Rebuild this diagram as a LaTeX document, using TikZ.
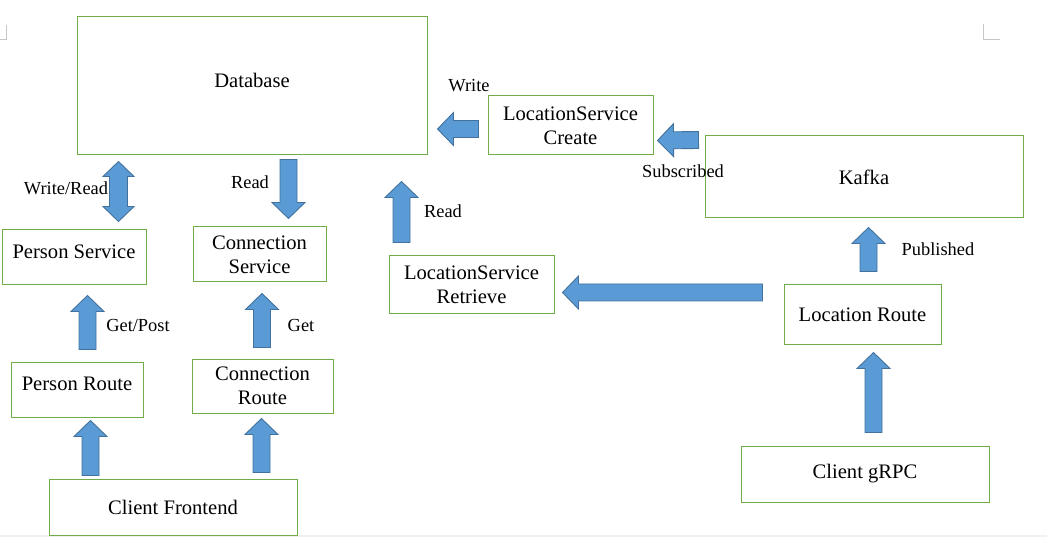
\documentclass[tikz,border=0pt]{standalone}
\usepackage{fontspec}
\setmainfont{Liberation Serif}
\usetikzlibrary{calc}

\definecolor{boxgreen}{HTML}{70AD47}
\definecolor{arrowfill}{HTML}{5B9BD5}
\definecolor{arrowedge}{HTML}{41719C}

\tikzset{
  box/.style={draw=boxgreen, line width=1pt, align=center, inner sep=0pt,
    font=\fontsize{20.6}{24}\selectfont},
  raised/.style={text depth=11pt},
  lbl/.style={anchor=base, inner sep=0pt, font=\fontsize{18.4}{22}\selectfont},
  pagemark/.style={draw=gray!45, line width=1pt},
  blockarrow/.style={draw=arrowedge, fill=arrowfill, line width=0.9pt,
    to path={let \p1=(\tikztostart), \p2=(\tikztotarget),
      \n1={atan2(\y2-\y1,\x2-\x1)}, \n2={veclen(\x2-\x1,\y2-\y1)} in
      [shift={(\p1)}, rotate=\n1]
      (0pt,-8.5pt) -- ({\n2*1pt-16pt},-8.5pt) -- ({\n2*1pt-16pt},-16.5pt)
      -- ({\n2*1pt},0pt) -- ({\n2*1pt-16pt},16.5pt) -- ({\n2*1pt-16pt},8.5pt)
      -- (0pt,8.5pt) -- cycle}},
  doublearrow/.style={draw=arrowedge, fill=arrowfill, line width=0.9pt,
    to path={let \p1=(\tikztostart), \p2=(\tikztotarget),
      \n1={atan2(\y2-\y1,\x2-\x1)}, \n2={veclen(\x2-\x1,\y2-\y1)} in
      [shift={(\p1)}, rotate=\n1]
      (0pt,0pt) -- (15pt,-15.5pt) -- (15pt,-9pt) -- ({\n2*1pt-15pt},-9pt)
      -- ({\n2*1pt-15pt},-15.5pt) -- ({\n2*1pt},0pt) -- ({\n2*1pt-15pt},15.5pt)
      -- ({\n2*1pt-15pt},9pt) -- (15pt,9pt) -- (15pt,15.5pt) -- cycle}}
}

\begin{document}
\begin{tikzpicture}[x=1pt, y=-1pt]
  \useasboundingbox (0,0) rectangle (1047,537);
  % page edge and corner marks
  \fill[gray!12] (0,534.5) rectangle (1047,537);
  \draw[pagemark] (0,40) -- (6.5,40) -- (6.5,25);
  \draw[pagemark] (983,24) -- (983,40) -- (1000,40);

  % boxes
  \node[box, raised, minimum width=350pt, minimum height=138pt] (db) at (252,86) {Database};
  \node[box, minimum width=165pt, minimum height=59pt] (create) at (570.5,125.5) {LocationService\\Create};
  \node[box, minimum width=318pt, minimum height=82pt] (kafka) at (864,177) {Kafka};
  \node[box, raised, minimum width=144pt, minimum height=55pt] (personsvc) at (74,257.5) {Person Service};
  \node[box, minimum width=133pt, minimum height=55pt] (connsvc) at (259.5,254.5) {Connection\\Service};
  \node[box, minimum width=165pt, minimum height=58pt] (retrieve) at (471.5,285) {LocationService\\Retrieve};
  \node[box, minimum width=157pt, minimum height=60pt] (locroute) at (862.5,315) {Location Route};
  \node[box, raised, minimum width=132pt, minimum height=55pt] (personroute) at (77,389.5) {Person Route};
  \node[box, minimum width=141pt, minimum height=54pt] (connroute) at (262.5,386) {Connection\\Route};
  \node[box, minimum width=248pt, minimum height=56pt] (frontend) at (173,507) {Client Frontend};
  \node[box, minimum width=248pt, minimum height=56pt] (grpc) at (865,474) {Client gRPC};

  % arrows
  \draw[doublearrow] ($(db.south)+(-133.5,6)$) to ($(personsvc.north)+(44.5,-8)$);
  \draw[blockarrow] ($(db.south)+(36.5,4)$) to ($(connsvc.north)+(29,-8)$);
  \draw[blockarrow] ($(retrieve.north)+(-70,-13)$) to ($(db.south)+(149.5,26)$);
  \draw[blockarrow] ($(create.west)+(-9,3.5)$) to ($(db.east |- create.west)+(10,3.5)$);
  \draw[blockarrow] ($(kafka.north west)+(-6,4.5)$) to ($(create.east)+(4,15)$);
  \draw[blockarrow] ($(locroute.west)+(-21,-22.5)$) to ($(retrieve.east)+(8,7.5)$);
  \draw[blockarrow] ($(locroute.north)+(6,-13)$) to ($(kafka.south)+(4.5,9)$);
  \draw[blockarrow] ($(grpc.north)+(8.5,-13)$) to ($(locroute.south)+(11,7)$);
  \draw[blockarrow] ($(personroute.north)+(10.5,-12)$) to ($(personsvc.south)+(13.5,10)$);
  \draw[blockarrow] ($(connroute.north)+(-0.5,-11)$) to ($(connsvc.south)+(2.5,11)$);
  \draw[blockarrow] ($(frontend.north)+(-82.5,-3)$) to ($(personroute.south)+(13.5,3)$);
  \draw[blockarrow] ($(frontend.north)+(88.5,-6)$) to ($(connroute.south)+(-1,5)$);

  % labels
  \node[lbl] (wrlbl) at (66,195) {Write/Read};
  \node[lbl] (readlbl) at (250,188.5) {Read};
  \node[lbl] (writelbl) at (469,92) {Write};
  \node[lbl] (readtwolbl) at (443,218) {Read};
  \node[lbl] (sublbl) at (683,178) {Subscribed};
  \node[lbl] (publbl) at (938,256) {Published};
  \node[lbl] (getpostlbl) at (138,331) {Get/Post};
  \node[lbl] (getlbl) at (301,332) {Get};
\end{tikzpicture}
\end{document}
